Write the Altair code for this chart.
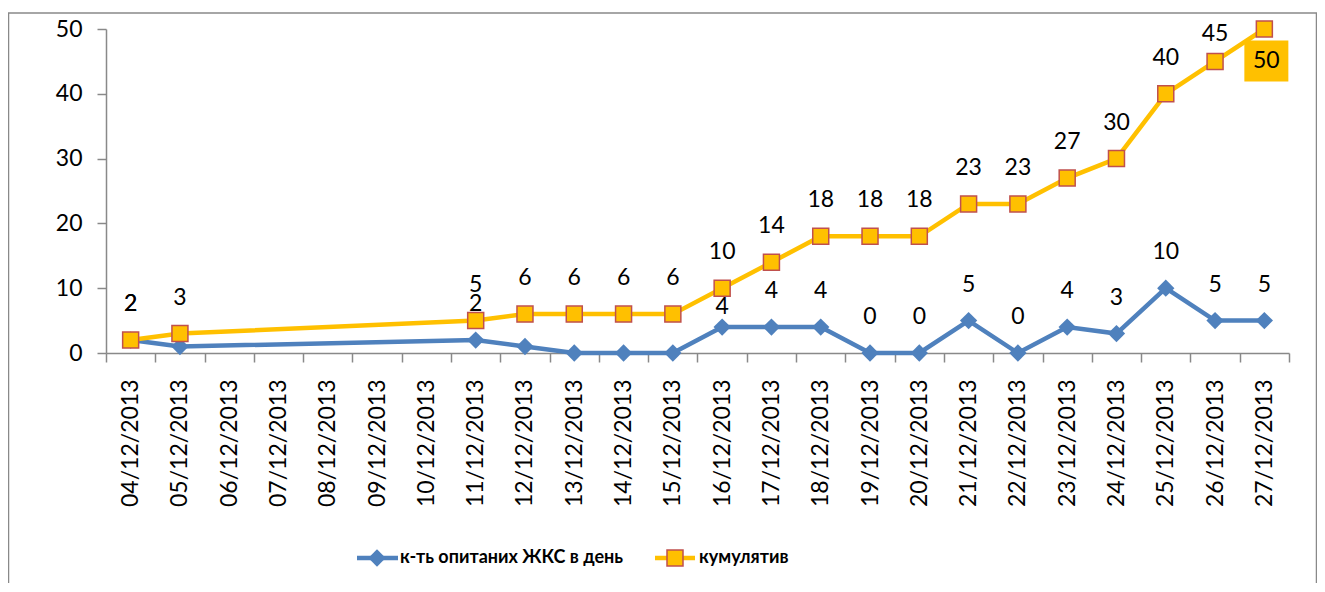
import altair as alt
import pandas as pd

# ---------------- data ----------------
all_dates = [
    "04/12/2013", "05/12/2013", "06/12/2013", "07/12/2013", "08/12/2013",
    "09/12/2013", "10/12/2013", "11/12/2013", "12/12/2013", "13/12/2013",
    "14/12/2013", "15/12/2013", "16/12/2013", "17/12/2013", "18/12/2013",
    "19/12/2013", "20/12/2013", "21/12/2013", "22/12/2013", "23/12/2013",
    "24/12/2013", "25/12/2013", "26/12/2013", "27/12/2013",
]
obs_dates = [
    "04/12/2013", "05/12/2013", "11/12/2013", "12/12/2013", "13/12/2013",
    "14/12/2013", "15/12/2013", "16/12/2013", "17/12/2013", "18/12/2013",
    "19/12/2013", "20/12/2013", "21/12/2013", "22/12/2013", "23/12/2013",
    "24/12/2013", "25/12/2013", "26/12/2013", "27/12/2013",
]
daily = [2, 1, 2, 1, 0, 0, 0, 4, 4, 4, 0, 0, 5, 0, 4, 3, 10, 5, 5]
cumulative = [2, 3, 5, 6, 6, 6, 6, 10, 14, 18, 18, 18, 23, 23, 27, 30, 40, 45, 50]

daily_hidden_labels = ["05/12/2013", "12/12/2013", "13/12/2013", "14/12/2013", "15/12/2013"]
daily_moved_labels = ["16/12/2013"]
cum_moved_labels = ["26/12/2013"]
cum_highlight = ["27/12/2013"]

series_daily = "к-ть опитаних ЖКС в день"
series_cum = "кумулятив"

df = pd.DataFrame({"date": obs_dates, "daily": daily, "cum": cumulative})
df["daily_label"] = [
    "" if d in daily_hidden_labels else str(v) for d, v in zip(obs_dates, daily)
]

# ---------------- style ----------------
BLUE = "#4F81BD"
YELLOW = "#FFC000"
RED = "#C0504D"
GREY = "#898989"
FONT = "Lato"
FS = 23

W, H = 1183, 324

xenc = alt.X(
    "date:N",
    scale=alt.Scale(type="band", domain=all_dates, paddingInner=0, paddingOuter=0),
    bandPosition=0.5,
    axis=alt.Axis(
        title=None, labelAngle=270, labelFont=FONT, labelFontSize=FS,
        labelColor="black", tickBand="extent", tickSize=9, tickColor=GREY,
        tickWidth=1.5, domainColor=GREY, domainWidth=1.5, labelPadding=17,
        labelAlign="right", labelBaseline="middle", grid=False,
    ),
)


def yenc(field):
    return alt.Y(
        f"{field}:Q",
        scale=alt.Scale(domain=[0, 50], nice=False, zero=True),
        axis=alt.Axis(
            title=None, values=[0, 10, 20, 30, 40, 50], labelFont=FONT,
            labelFontSize=FS, labelColor="black", tickSize=9, tickColor=GREY,
            tickWidth=1.5, domainColor=GREY, domainWidth=1.5, labelPadding=15,
            grid=False,
        ),
    )


def in_dates(dates):
    return alt.FieldOneOfPredicate(field="date", oneOf=dates)


base = alt.Chart(df)

border = alt.Chart(pd.DataFrame({"k": [0]})).mark_rect(
    fillOpacity=0, stroke=GREY, strokeWidth=1.5
).encode(
    x=alt.value(-97.5), x2=alt.value(1210.5), y=alt.value(-16), y2=alt.value(640)
)

daily_line = base.mark_line(color=BLUE, strokeWidth=4.5).encode(x=xenc, y=yenc("daily"))
daily_pts = base.mark_point(
    shape="diamond", size=300, filled=True, color=BLUE, opacity=1
).encode(x=xenc, y=yenc("daily"))

cum_line = base.mark_line(color=YELLOW, strokeWidth=4.5).encode(x=xenc, y=yenc("cum"))
cum_pts = base.mark_point(
    shape="square", size=256, filled=True, fill=YELLOW, stroke=RED,
    strokeWidth=1.5, opacity=1
).encode(x=xenc, y=yenc("cum"))

hl = base.transform_filter(in_dates(cum_highlight))
hl_box = hl.mark_point(
    shape="M-1,-0.93L1,-0.93L1,0.93L-1,0.93Z", size=1936, filled=True,
    fill=YELLOW, strokeWidth=0, opacity=1, yOffset=32, xOffset=2
).encode(x=xenc, y=yenc("cum"))
hl_text = hl.mark_text(
    font=FONT, fontSize=FS, color="black", dy=32, dx=2, baseline="middle"
).encode(x=xenc, y=yenc("cum"), text="cum:Q")

cum_text = base.transform_filter(
    ~in_dates(cum_highlight + cum_moved_labels)
).mark_text(font=FONT, fontSize=FS, color="black", dy=-36, baseline="middle").encode(
    x=xenc, y=yenc("cum"), text="cum:Q"
)
cum_text_moved = base.transform_filter(in_dates(cum_moved_labels)).mark_text(
    font=FONT, fontSize=FS, color="black", dy=-27, baseline="middle"
).encode(x=xenc, y=yenc("cum"), text="cum:Q")

daily_text = base.transform_filter(~in_dates(daily_moved_labels)).mark_text(
    font=FONT, fontSize=FS, color="black", dy=-36, baseline="middle"
).encode(x=xenc, y=yenc("daily"), text="daily_label:N")
daily_text_moved = base.transform_filter(in_dates(daily_moved_labels)).mark_text(
    font=FONT, fontSize=FS, color="black", dy=-20, baseline="middle"
).encode(x=xenc, y=yenc("daily"), text="daily_label:N")

# ---------------- legend ----------------
one = pd.DataFrame({"k": [0]})
LY = 529
LFS = 18
leg = [
    alt.Chart(one).mark_rule(color=BLUE, strokeWidth=4.5).encode(
        x=alt.value(251), x2=alt.value(292), y=alt.value(LY)),
    alt.Chart(one).mark_point(shape="diamond", size=300, filled=True, color=BLUE,
                              opacity=1).encode(x=alt.value(271), y=alt.value(LY)),
    alt.Chart(one).mark_text(font=FONT, fontSize=LFS, fontWeight="bold", align="left",
                             baseline="middle", color="black").encode(
        x=alt.value(294), y=alt.value(LY), text=alt.value(series_daily)),
    alt.Chart(one).mark_rule(color=YELLOW, strokeWidth=4.5).encode(
        x=alt.value(549), x2=alt.value(589), y=alt.value(LY)),
    alt.Chart(one).mark_point(shape="square", size=256, filled=True, fill=YELLOW,
                              stroke=RED, strokeWidth=1.5, opacity=1).encode(
        x=alt.value(569), y=alt.value(LY)),
    alt.Chart(one).mark_text(font=FONT, fontSize=LFS, fontWeight="bold", align="left",
                             baseline="middle", color="black").encode(
        x=alt.value(593), y=alt.value(LY), text=alt.value(series_cum)),
]

chart = alt.layer(
    border, daily_line, daily_pts, cum_line, cum_pts, hl_box,
    cum_text, cum_text_moved, hl_text, daily_text, daily_text_moved, *leg
).properties(
    width=W, height=H,
    autosize=alt.AutoSizeParams(type="none"),
    padding={"left": 98, "top": 21, "right": 28, "bottom": 230},
    background="white",
).configure_view(stroke=None)

chart.save("out.html", embed_options={"renderer": "svg", "actions": False})
